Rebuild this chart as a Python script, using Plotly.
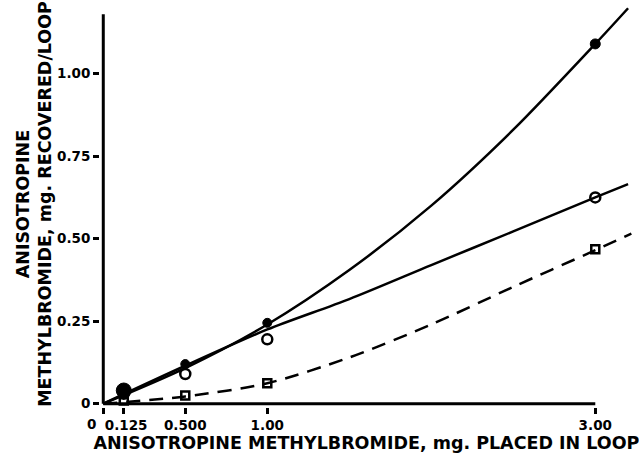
import plotly.graph_objects as go

# Measured data points
x_pts = [0.125, 0.5, 1.0, 3.0]
filled_y = [0.04, 0.12, 0.245, 1.09]
open_y = [0.03, 0.09, 0.195, 0.625]
square_y = [0.01, 0.025, 0.062, 0.468]

# Curves
curve_a_x = [0, 0.5, 1.0, 1.5, 2.0, 2.5, 3.0, 3.2]
curve_a_y = [0, 0.108, 0.24, 0.405, 0.6, 0.83, 1.09, 1.198]
curve_b_x = [0, 0.5, 1.0, 1.5, 2.0, 2.5, 3.0, 3.2]
curve_b_y = [0, 0.115, 0.225, 0.317, 0.42, 0.522, 0.625, 0.665]
curve_c_x = [0, 0.5, 1.0, 1.5, 2.0, 2.5, 3.0, 3.22]
curve_c_y = [0, 0.022, 0.062, 0.14, 0.24, 0.354, 0.465, 0.515]

x_ticks = [0, 0.125, 0.5, 1.0, 3.0]
x_tick_labels = ["", "\u00a00.125", "0.500", "1.00", "3.00"]
x_zero_label = "0"
y_ticks = [0, 0.25, 0.5, 0.75, 1.0]
y_tick_labels = ["0", "0.25", "0.50", "0.75", "1.00"]

FONT = "DejaVu Sans"
fig = go.Figure()

fig.add_trace(go.Scatter(x=curve_a_x, y=curve_a_y, mode="lines", line=dict(color="black", width=2.5, shape="spline", smoothing=0.8), showlegend=False))
fig.add_trace(go.Scatter(x=curve_b_x, y=curve_b_y, mode="lines", line=dict(color="black", width=2.5, shape="spline", smoothing=0.8), showlegend=False))
fig.add_trace(go.Scatter(x=curve_c_x, y=curve_c_y, mode="lines", line=dict(color="black", width=2.5, shape="spline", smoothing=0.8, dash="14px,9px"), showlegend=False))

fig.add_trace(go.Scatter(x=x_pts, y=square_y, mode="markers",
                         marker=dict(symbol="square-open", size=8, color="black", line=dict(width=2.5, color="black")), showlegend=False))
fig.add_trace(go.Scatter(x=x_pts, y=open_y, mode="markers",
                         marker=dict(symbol="circle-open", size=10, color="black", line=dict(width=2.5, color="black")), showlegend=False))
fig.add_trace(go.Scatter(x=x_pts, y=filled_y, mode="markers",
                         marker=dict(symbol="circle", size=[15, 9, 9, 10], color="black", opacity=1,
                                     line=dict(width=1, color="black")), showlegend=False))

# axis lines
fig.add_shape(type="line", x0=0, x1=3.0, y0=0, y1=0, xref="x", yref="y", line=dict(color="black", width=3))
fig.add_shape(type="line", x0=0, x1=0, y0=0, y1=1.18, xref="x", yref="y", line=dict(color="black", width=3))

fig.add_annotation(x=x_ticks[0], y=0, xref="x", yref="y", text=x_zero_label, showarrow=False,
                   xanchor="center", yanchor="top", xshift=-12, yshift=-10,
                   font=dict(family=FONT, size=13.5, color="black", weight="bold"))

fig.update_xaxes(range=[-0.02, 3.23], tickvals=x_ticks, ticktext=x_tick_labels, tickangle=0,
                 ticks="outside", ticklen=6, tickwidth=2.5, tickcolor="black",
                 showgrid=False, zeroline=False, showline=False,
                 tickfont=dict(family=FONT, size=13.5, color="black", weight="bold"),
                 title=dict(text="ANISOTROPINE METHYLBROMIDE, mg. PLACED IN LOOP",
                            font=dict(family=FONT, size=17.5, color="black", weight="bold"), standoff=2))
fig.update_yaxes(range=[-0.01, 1.22], tickvals=y_ticks, ticktext=y_tick_labels,
                 ticks="outside", ticklen=6, tickwidth=2.5, tickcolor="black",
                 showgrid=False, zeroline=False, showline=False,
                 tickfont=dict(family=FONT, size=13.5, color="black", weight="bold"),
                 title=dict(text="ANISOTROPINE<br>METHYLBROMIDE, mg. RECOVERED/LOOP",
                            font=dict(family=FONT, size=17.5, color="black", weight="bold"), standoff=0))

fig.update_layout(width=639, height=457, margin=dict(l=100, r=6, t=1, b=50),
                  plot_bgcolor="white", paper_bgcolor="white")

fig.write_html("out.html")
